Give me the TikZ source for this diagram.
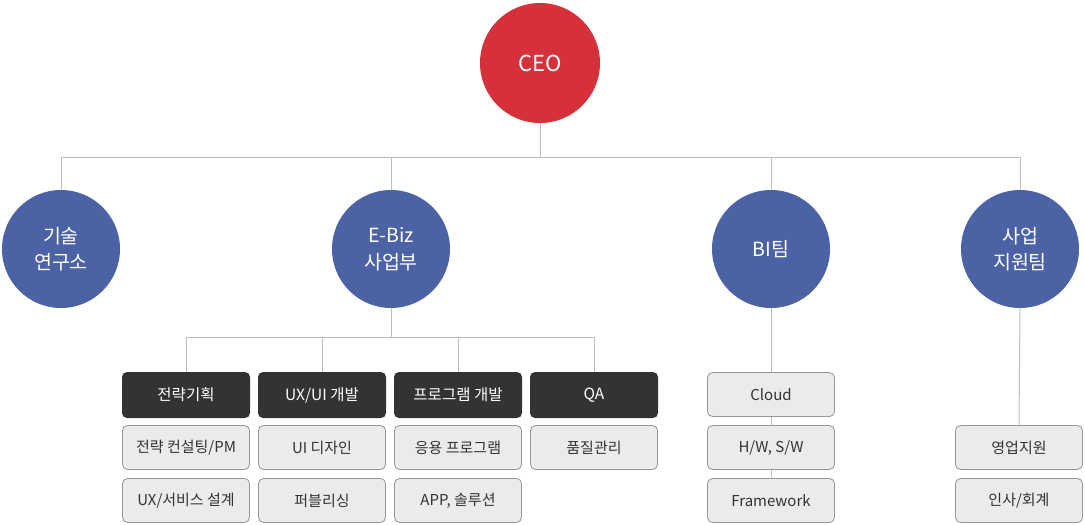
\documentclass[tikz,border=0pt]{standalone}
\usepackage{fontspec}
\setmainfont{Noto Sans CJK KR}
\usepackage{tikz}

\definecolor{ceored}{HTML}{D6313B}
\definecolor{deptblue}{HTML}{4B62A5}
\definecolor{teamdark}{HTML}{333333}
\definecolor{boxgray}{HTML}{EBEBEB}
\definecolor{boxline}{HTML}{969696}
\definecolor{linegray}{HTML}{BDBDBD}

\begin{document}
\begin{tikzpicture}[x=1pt, y=-1pt,
    ceo/.style={circle, fill=ceored, text=white, minimum size=120pt, inner sep=0pt, font=\fontsize{22}{26}\selectfont},
    dept/.style={circle, fill=deptblue, text=white, minimum size=118pt, inner sep=0pt, align=center, font=\fontsize{19.5}{26.5}\selectfont},
    team/.style={rounded corners=5pt, fill=teamdark, text=white, minimum width=128pt, minimum height=46pt, inner sep=0pt, font=\fontsize{15.5}{18}\selectfont},
    unit/.style={rounded corners=5pt, fill=boxgray, draw=boxline, line width=0.8pt, text=teamdark, minimum width=127pt, minimum height=44pt, inner sep=0pt, font=\fontsize{15}{18}\selectfont},
    conn/.style={draw=linegray, line width=1pt}]
    \useasboundingbox (0,0) rectangle (1085,525);

    % CEO and departments
    \node[ceo] (ceo) at (540,63) {CEO};
    \node[dept] (lab) at (61,249) {기술\\연구소};
    \node[dept] (ebiz) at (391,249) {E-Biz\\사업부};
    \node[dept] (bi) at (771,249) {BI팀};
    \node[dept] (support) at (1020,249) {사업\\지원팀};

    \coordinate (topbus) at (540,157);
    \draw[conn] (ceo.south) -- (topbus);
    \draw[conn] (lab.north) |- (topbus);
    \draw[conn] (ebiz.north) |- (topbus);
    \draw[conn] (bi.north) |- (topbus);
    \draw[conn] (support.north) |- (topbus);

    % E-Biz teams
    \node[team] (plan) at (186,395) {전략기획};
    \node[team] (uxui) at (322,395) {UX/UI 개발};
    \node[team] (prog) at (458,395) {프로그램 개발};
    \node[team] (qa) at (594,395) {QA};

    \coordinate (ebizbus) at (391,337);
    \draw[conn] (ebiz.south) -- (ebizbus);
    \draw[conn] (plan.north) |- (ebizbus);
    \draw[conn] (uxui.north) |- (ebizbus);
    \draw[conn] (prog.north) |- (ebizbus);
    \draw[conn] (qa.north) |- (ebizbus);

    \node[unit] (consult) at (186,447.5) {전략 컨설팅/PM};
    \node[unit] (uxdesign) at (186,500.5) {UX/서비스 설계};
    \node[unit] (uidesign) at (322,447.5) {UI 디자인};
    \node[unit] (publish) at (322,500.5) {퍼블리싱};
    \node[unit] (apps) at (458,447.5) {응용 프로그램};
    \node[unit] (solution) at (458,500.5) {APP, 솔루션};
    \node[unit] (quality) at (594,447.5) {품질관리};

    % BI team
    \node[unit] (cloud) at (771,394.5) {Cloud};
    \node[unit] (hwsw) at (771,447.5) {H/W, S/W};
    \node[unit] (frame) at (771,500.5) {Framework};
    \draw[conn] (bi.south) -- (cloud.north);
    \draw[conn] (cloud.south) -- (hwsw.north);
    \draw[conn] (hwsw.south) -- (frame.north);

    % support team
    \node[unit] (sales) at (1019,447.5) {영업지원};
    \node[unit] (account) at (1019,500.5) {인사/회계};
    \draw[conn] (support.south) -- (sales.north);
\end{tikzpicture}
\end{document}
